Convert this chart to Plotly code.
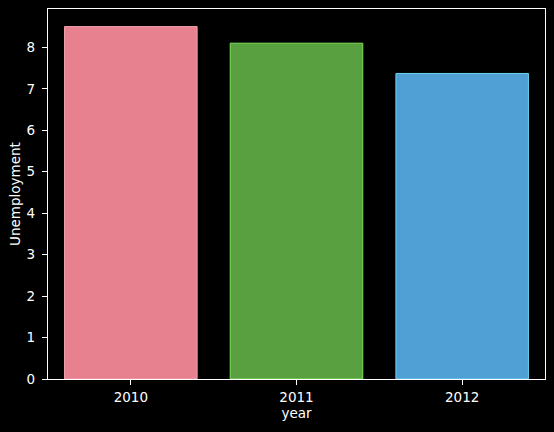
import plotly.graph_objects as go

years = ["2010", "2011", "2012"]
unemployment = [8.5, 8.1, 7.37]
fill_colors = ["#E7808F", "#59A140", "#51A0D5"]
edge_colors = ["#F5A3B2", "#80E35A", "#6AD3F2"]

fig = go.Figure()
fig.add_trace(go.Bar(
    x=years, y=unemployment,
    marker=dict(color=fill_colors, line=dict(color=edge_colors, width=1)),
    width=0.8,
))

font = dict(family="DejaVu Sans", size=13.5, color="white")
fig.update_layout(
    width=554, height=432,
    paper_bgcolor="black", plot_bgcolor="black",
    margin=dict(l=48, r=9, t=9, b=53, autoexpand=False),
    font=font,
    showlegend=False,
    bargap=0.2,
    xaxis=dict(
        type="category", range=[-0.5, 2.5],
        showline=True, linecolor="white", linewidth=1.2, mirror=True,
        ticks="outside", ticklen=5, tickcolor="white", tickwidth=1,
        ticklabelstandoff=1,
        showgrid=False, zeroline=False, automargin=False,
        title=dict(text="year", font=font, standoff=2),
    ),
    yaxis=dict(
        range=[0, 8.925],
        tickvals=[0, 1, 2, 3, 4, 5, 6, 7, 8],
        showline=True, linecolor="white", linewidth=1.2, mirror=True,
        ticks="outside", ticklen=5, tickcolor="white", tickwidth=1,
        ticklabelstandoff=4,
        showgrid=False, zeroline=False, automargin=False,
        title=dict(text="Unemployment", font=font, standoff=2),
    ),
)

fig.write_html("out.html", config={"displayModeBar": False},
               post_script="document.body.style.margin='0';")
